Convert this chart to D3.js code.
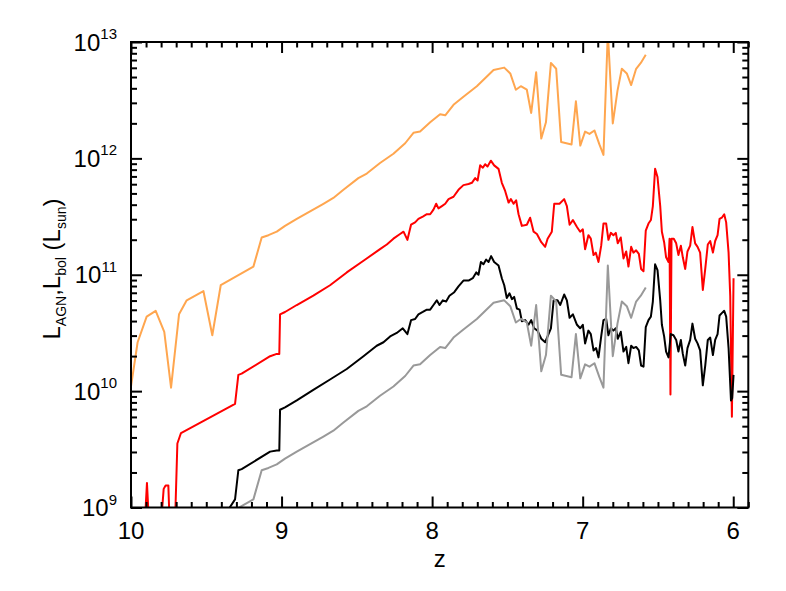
<html>
<head>
<title>L_AGN, L_bol vs z</title>
<style>
  body { margin: 0; background: #fff; }
  text { font-family: "Liberation Sans", Arial, Helvetica, sans-serif; fill: #000; }
</style>
</head>
<body>
<svg id="chart" width="786" height="591"></svg>
<script src="https://d3js.org/d3.v7.min.js"></script>
<script>
// tick values
const zTicks = [10, 9, 8, 7, 6]
const yExps = [9, 10, 11, 12, 13]

// orange curve (log10 L)
const zOrange = [10.000, 9.956, 9.896, 9.836, 9.779, 9.734, 9.681, 9.630, 9.519, 9.460, 9.404, 9.187, 9.132, 9.087, 9.032, 8.977,
  8.899, 8.722, 8.656, 8.589, 8.490, 8.434, 8.346, 8.257, 8.179, 8.124, 8.080, 8.013, 7.947, 7.913, 7.858, 7.792, 7.703,
  7.592, 7.521, 7.481, 7.444, 7.411, 7.371, 7.342, 7.309, 7.275, 7.244, 7.211, 7.176, 7.143, 7.074, 7.045, 7.016, 6.984,
  6.955, 6.922, 6.889, 6.862, 6.833, 6.800, 6.769, 6.740, 6.707, 6.678, 6.645, 6.614, 6.581]
const logOrange = [10.04, 10.42, 10.64, 10.69, 10.51, 10.03, 10.66, 10.78, 10.86, 10.48, 10.91, 11.07, 11.32, 11.34, 11.37, 11.42,
  11.48, 11.61, 11.66, 11.73, 11.83, 11.87, 11.96, 12.04, 12.13, 12.22, 12.23, 12.31, 12.38, 12.37, 12.46, 12.53, 12.62,
  12.76, 12.78, 12.73, 12.59, 12.62, 12.59, 12.39, 12.74, 12.17, 12.31, 12.82, 12.77, 12.14, 12.12, 12.49, 12.11, 12.23,
  12.21, 12.24, 12.12, 12.03, 13.08, 12.30, 12.58, 12.77, 12.73, 12.63, 12.77, 12.82, 12.89]

// gray curve
const zGray = [9.460, 9.404, 9.187, 9.132, 9.087, 9.032, 8.977,
  8.899, 8.722, 8.656, 8.589, 8.490, 8.434, 8.346, 8.257, 8.179, 8.124, 8.080, 8.013, 7.947, 7.913, 7.858, 7.792, 7.703,
  7.592, 7.521, 7.481, 7.444, 7.411, 7.371, 7.342, 7.309, 7.275, 7.244, 7.211, 7.176, 7.143, 7.074, 7.045, 7.016, 6.984,
  6.955, 6.922, 6.889, 6.862, 6.833, 6.800, 6.769, 6.740, 6.707, 6.678, 6.645, 6.614, 6.581]
const logGray = [8.48, 8.91, 9.07, 9.32, 9.34, 9.37, 9.42,
  9.48, 9.61, 9.66, 9.73, 9.83, 9.87, 9.96, 10.04, 10.13, 10.22, 10.23, 10.31, 10.38, 10.37, 10.46, 10.53, 10.62,
  10.76, 10.78, 10.73, 10.59, 10.62, 10.59, 10.39, 10.74, 10.17, 10.31, 10.82, 10.77, 10.14, 10.12, 10.49, 10.11, 10.23,
  10.21, 10.24, 10.12, 10.03, 11.08, 10.30, 10.58, 10.77, 10.73, 10.63, 10.77, 10.82, 10.89]

// red curve
const zRed = [10.000, 9.911, 9.894, 9.880, 9.801, 9.783, 9.770, 9.752, 9.743, 9.708, 9.692, 9.668, 9.309, 9.287, 9.265, 9.076,
  9.032, 9.015, 9.010, 8.977, 8.899, 8.789, 8.678, 8.567, 8.456, 8.346, 8.301, 8.257, 8.213, 8.190, 8.164, 8.140, 8.113,
  8.091, 8.062, 8.035, 8.013, 7.991, 7.973, 7.958, 7.935, 7.913, 7.891, 7.858, 7.825, 7.792, 7.758, 7.736, 7.714, 7.698,
  7.681, 7.663, 7.648, 7.632, 7.610, 7.588, 7.559, 7.537, 7.515, 7.492, 7.477, 7.459, 7.442, 7.426, 7.404, 7.371, 7.349,
  7.326, 7.304, 7.275, 7.249, 7.233, 7.205, 7.189, 7.154, 7.123, 7.105, 7.087, 7.065, 7.038, 7.017, 6.999, 6.984, 6.962,
  6.946, 6.928, 6.913, 6.895, 6.877, 6.862, 6.844, 6.829, 6.813, 6.796, 6.780, 6.767, 6.747, 6.729, 6.711, 6.696, 6.678,
  6.663, 6.645, 6.627, 6.612, 6.596, 6.581, 6.563, 6.547, 6.534, 6.519, 6.503, 6.485, 6.474, 6.459, 6.446, 6.430, 6.423,
  6.417, 6.410, 6.395, 6.379, 6.364, 6.348, 6.335, 6.319, 6.304, 6.286, 6.271, 6.253, 6.237, 6.220, 6.202, 6.186, 6.169,
  6.153, 6.135, 6.120, 6.104, 6.091, 6.076, 6.060, 6.047, 6.031, 6.020, 6.009, 5.998]
const logRed = [8.70, 8.80, 9.21, 8.85, 8.85, 9.16, 9.19, 9.19, 8.85, 8.85, 9.55, 9.64, 9.89, 10.14, 10.15, 10.30,
  10.32, 10.32, 10.66, 10.68, 10.74, 10.82, 10.91, 11.02, 11.12, 11.22, 11.26, 11.31, 11.35, 11.37, 11.30, 11.43, 11.45,
  11.48, 11.50, 11.52, 11.52, 11.56, 11.61, 11.57, 11.59, 11.61, 11.65, 11.67, 11.73, 11.77, 11.78, 11.79, 11.83, 11.81,
  11.94, 11.92, 11.95, 11.93, 11.98, 11.94, 11.91, 11.79, 11.72, 11.62, 11.65, 11.61, 11.64, 11.52, 11.42, 11.43, 11.49,
  11.37, 11.35, 11.28, 11.24, 11.31, 11.37, 11.61, 11.61, 11.65, 11.59, 11.43, 11.47, 11.41, 11.37, 11.39, 11.22, 11.34,
  11.31, 11.17, 11.19, 11.11, 11.25, 11.44, 11.44, 11.30, 11.36, 11.34, 11.36, 11.27, 11.32, 11.14, 11.20, 11.07, 11.24,
  11.19, 11.21, 11.18, 11.05, 11.03, 11.38, 11.44, 11.47, 11.59, 11.91, 11.84, 11.59, 11.37, 11.28, 11.15, 11.11, 11.31,
  9.97, 11.31, 11.31, 11.27, 11.17, 11.25, 11.15, 11.05, 11.20, 11.25, 11.41, 11.27, 11.24, 11.19, 10.87, 11.05, 11.26,
  11.29, 11.19, 11.29, 11.34, 11.48, 11.49, 11.52, 11.45, 11.19, 10.82, 9.78, 10.97]

// black curve
const zBlack = [9.420, 9.309, 9.287, 9.265, 9.076, 9.032, 9.015, 9.010, 8.977, 8.899, 8.789, 8.678, 8.567, 8.456, 8.368, 8.323,
  8.279, 8.235, 8.195, 8.164, 8.140, 8.113, 8.091, 8.062, 8.035, 8.013, 7.991, 7.969, 7.951, 7.929, 7.907, 7.885, 7.853,
  7.825, 7.792, 7.758, 7.730, 7.707, 7.692, 7.676, 7.659, 7.641, 7.625, 7.608, 7.588, 7.559, 7.537, 7.521, 7.504, 7.486,
  7.470, 7.455, 7.437, 7.419, 7.404, 7.382, 7.360, 7.342, 7.322, 7.300, 7.275, 7.249, 7.227, 7.211, 7.193, 7.167, 7.149,
  7.123, 7.105, 7.087, 7.065, 7.038, 7.017, 6.999, 6.984, 6.962, 6.946, 6.928, 6.911, 6.895, 6.877, 6.862, 6.844, 6.829,
  6.813, 6.796, 6.780, 6.767, 6.747, 6.729, 6.711, 6.696, 6.678, 6.663, 6.645, 6.627, 6.612, 6.596, 6.581, 6.563, 6.547,
  6.534, 6.519, 6.503, 6.485, 6.474, 6.459, 6.446, 6.430, 6.415, 6.397, 6.379, 6.364, 6.348, 6.335, 6.319, 6.304, 6.286,
  6.271, 6.253, 6.237, 6.220, 6.202, 6.186, 6.169, 6.153, 6.135, 6.120, 6.104, 6.091, 6.076, 6.060, 6.047, 6.031, 6.015,
  6.007, 5.998]
const logBlack = [8.85, 9.07, 9.32, 9.33, 9.48, 9.49, 9.49, 9.84, 9.86, 9.92, 10.01, 10.10, 10.19, 10.30, 10.39, 10.42,
  10.47, 10.50, 10.54, 10.49, 10.61, 10.62, 10.66, 10.68, 10.70, 10.70, 10.74, 10.78, 10.74, 10.78, 10.77, 10.82, 10.85,
  10.90, 10.95, 10.95, 10.97, 11.02, 11.00, 11.11, 11.09, 11.13, 11.11, 11.16, 11.11, 11.08, 10.97, 10.91, 10.80, 10.84,
  10.79, 10.81, 10.71, 10.70, 10.60, 10.61, 10.57, 10.61, 10.54, 10.52, 10.45, 10.42, 10.49, 10.54, 10.78, 10.78, 10.74,
  10.83, 10.78, 10.63, 10.66, 10.57, 10.54, 10.57, 10.41, 10.52, 10.49, 10.35, 10.37, 10.29, 10.47, 10.61, 10.62, 10.48,
  10.54, 10.52, 10.54, 10.45, 10.51, 10.34, 10.38, 10.24, 10.39, 10.37, 10.38, 10.35, 10.22, 10.21, 10.55, 10.61, 10.64,
  10.77, 11.09, 11.04, 10.78, 10.57, 10.47, 10.34, 10.29, 10.49, 10.48, 10.44, 10.34, 10.44, 10.32, 10.22, 10.37, 10.44,
  10.58, 10.45, 10.41, 10.35, 10.05, 10.22, 10.44, 10.46, 10.31, 10.44, 10.49, 10.65, 10.67, 10.69, 10.64, 10.37, 9.92,
  9.94, 10.14]

let svg = d3.select("#chart")
let plotL = 131, plotR = 748.3, plotT = 42, plotB = 507.5

let x = d3.scaleLinear().domain([10, 5.9]).range([plotL, plotR])
let y = d3.scaleLog().domain([1e9, 1e13]).range([plotB, plotT])

svg.append("clipPath").attr("id", "plotclip")
   .append("rect")
   .attr("x", plotL).attr("y", plotT)
   .attr("width", plotR - plotL).attr("height", plotB - plotT)

let line = d3.line()
             .x(d => x(d[0]))
             .y(d => y(Math.pow(10, d[1])))

let series = [
  {z: zOrange, v: logOrange, color: "#ffa64f"},
  {z: zRed, v: logRed, color: "#ff0000"},
  {z: zBlack, v: logBlack, color: "#000000"},
  {z: zGray, v: logGray, color: "#999999"}
]

let plot = svg.append("g").attr("clip-path", "url(#plotclip)")
series.forEach(s => {
  plot.append("path")
      .datum(s.z.map((z, i) => [z, s.v[i]]))
      .attr("fill", "none")
      .attr("stroke", s.color)
      .attr("stroke-width", 2)
      .attr("stroke-linejoin", "round")
      .attr("d", line)
})

// ticks, all pointing inward
let minorZ = d3.range(59, 101).filter(i => i % 10 != 0).map(i => i / 10)
let minorY = []
yExps.slice(0, -1).forEach(e => { for (let m = 2; m <= 9; m++) minorY.push(m * Math.pow(10, e)) })
let majorY = yExps.map(e => Math.pow(10, e))

function tickStyle(g) {
  g.select(".domain").remove()
  g.selectAll("line").attr("stroke", "#000").attr("stroke-width", 2)
}

svg.append("g").attr("transform", `translate(0,${plotB})`)
   .call(d3.axisBottom(x).tickValues(zTicks).tickSize(-11).tickFormat("")).call(tickStyle)
svg.append("g").attr("transform", `translate(0,${plotB})`)
   .call(d3.axisBottom(x).tickValues(minorZ).tickSize(-5.5).tickFormat("")).call(tickStyle)
svg.append("g").attr("transform", `translate(0,${plotT})`)
   .call(d3.axisTop(x).tickValues(zTicks).tickSize(-11).tickFormat("")).call(tickStyle)
svg.append("g").attr("transform", `translate(0,${plotT})`)
   .call(d3.axisTop(x).tickValues(minorZ).tickSize(-5.5).tickFormat("")).call(tickStyle)
svg.append("g").attr("transform", `translate(${plotL},0)`)
   .call(d3.axisLeft(y).tickValues(majorY).tickSize(-11).tickFormat("")).call(tickStyle)
svg.append("g").attr("transform", `translate(${plotL},0)`)
   .call(d3.axisLeft(y).tickValues(minorY).tickSize(-6).tickFormat("")).call(tickStyle)
svg.append("g").attr("transform", `translate(${plotR},0)`)
   .call(d3.axisRight(y).tickValues(majorY).tickSize(-11).tickFormat("")).call(tickStyle)
svg.append("g").attr("transform", `translate(${plotR},0)`)
   .call(d3.axisRight(y).tickValues(minorY).tickSize(-6).tickFormat("")).call(tickStyle)

// frame
svg.append("rect")
   .attr("x", plotL).attr("y", plotT)
   .attr("width", plotR - plotL).attr("height", plotB - plotT)
   .attr("fill", "none").attr("stroke", "#000").attr("stroke-width", 2)

// x tick labels
svg.selectAll(".xlab").data(zTicks).enter()
   .append("text")
   .attr("class", "xlab")
   .attr("x", d => x(d))
   .attr("y", 539)
   .attr("text-anchor", "middle")
   .attr("font-size", 24)
   .text(d => d)

// y tick labels 10^n
let ylab = svg.selectAll(".ylab").data(yExps).enter()
   .append("text")
   .attr("class", "ylab")
   .attr("x", 117)
   .attr("y", d => y(Math.pow(10, d)) + 8.5)
   .attr("text-anchor", "end")
   .attr("font-size", 24)
ylab.append("tspan").text("10")
ylab.append("tspan").attr("font-size", 15).attr("dy", -11.5).text(d => d)

// axis titles
svg.append("text")
   .attr("x", (plotL + plotR) / 2)
   .attr("y", 567)
   .attr("text-anchor", "middle")
   .attr("font-size", 24)
   .text("z")

let yt = svg.append("text")
   .attr("transform", "translate(60,269) rotate(-90)")
   .attr("text-anchor", "middle")
   .attr("font-size", 24)
yt.append("tspan").text("L")
yt.append("tspan").attr("font-size", 14).attr("dy", 6).text("AGN")
yt.append("tspan").attr("dy", -6).text(",L")
yt.append("tspan").attr("font-size", 14).attr("dy", 6).text("bol")
yt.append("tspan").attr("dy", -6).text(" (L")
yt.append("tspan").attr("font-size", 14).attr("dy", 6).text("sun")
yt.append("tspan").attr("dy", -6).text(")")
</script>
</body>
</html>
